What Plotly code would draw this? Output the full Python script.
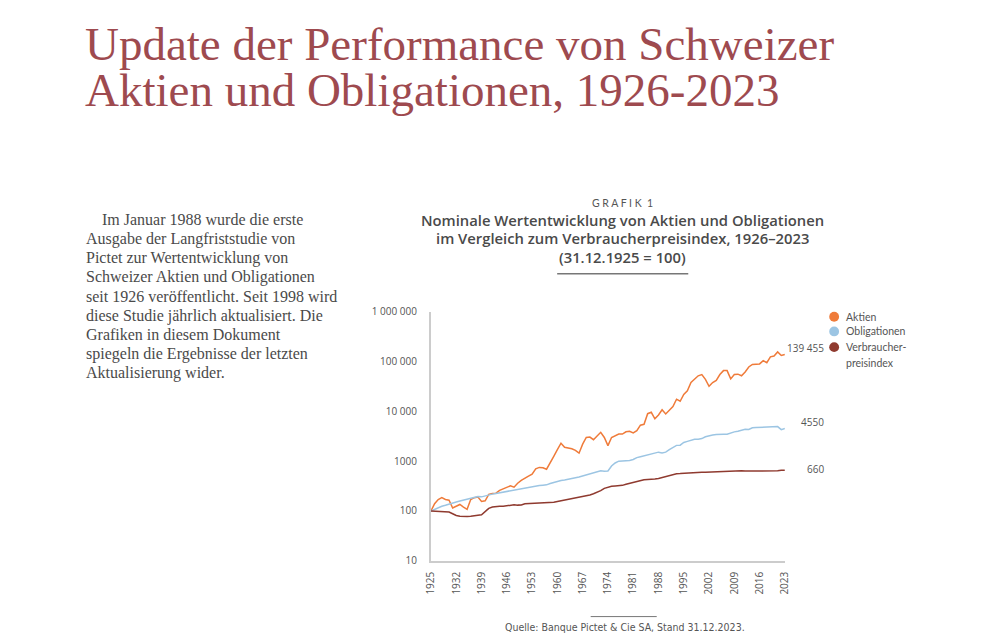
import math
import plotly.graph_objects as go

W, H = 981, 643
OFF = 8  # page body margin

years = list(range(1925, 2024))

aktien = [100, 140, 170, 185, 170, 165, 115, 125, 135, 120,
          108, 170, 185, 190, 155, 160, 215, 225, 228, 260,
          280, 300, 320, 300, 360, 410, 460, 500, 550, 700,
          750, 740, 690, 900, 1250, 1700, 2300, 1900, 1850, 1780,
          1650, 1450, 2200, 3000, 3050, 2700, 3200, 3800, 3000, 2050,
          3000, 3300, 3500, 3500, 3900, 4000, 3700, 4100, 5300, 5500,
          9000, 9600, 7100, 8500, 10800, 8900, 10500, 12500, 17600, 16000,
          22000, 26000, 38000, 45000, 52000, 55000, 44000, 32000, 38000, 42000,
          55000, 66000, 66000, 45000, 55000, 56000, 52000, 62000, 78000, 88000,
          90000, 90000, 105000, 95000, 125000, 130000, 157000, 133000, 139455]

obligationen = [100, 108, 116, 124, 130, 138, 145, 152, 158, 165,
                170, 180, 188, 195, 192, 198, 210, 218, 225, 232,
                240, 248, 255, 262, 275, 285, 290, 300, 310, 320,
                325, 330, 335, 355, 375, 400, 410, 420, 430, 445,
                465, 480, 505, 530, 545, 580, 620, 640, 630, 635,
                800, 920, 1000, 1010, 1000, 1030, 1080, 1180, 1230, 1280,
                1350, 1420, 1460, 1520, 1470, 1520, 1700, 1900, 2080, 2100,
                2380, 2500, 2650, 2750, 2770, 2850, 3100, 3280, 3350, 3450,
                3500, 3480, 3470, 3700, 3880, 4000, 4250, 4400, 4350, 4700,
                4750, 4800, 4820, 4850, 4950, 5000, 4950, 4300, 4550]

vpi = [100, 99, 99, 99, 98, 95, 88, 81, 78, 77,
       77, 78, 81, 82, 84, 98, 113, 120, 123, 124,
       124, 128, 133, 133, 131, 132, 139, 140, 140, 141,
       143, 145, 148, 149, 150, 155, 160, 166, 172, 178,
       185, 193, 200, 205, 210, 222, 237, 256, 285, 305,
       315, 319, 323, 327, 344, 358, 381, 402, 410, 422,
       431, 431, 440, 449, 472, 497, 523, 540, 560, 563,
       571, 575, 577, 578, 588, 597, 600, 605, 608, 617,
       623, 624, 635, 640, 642, 642, 640, 632, 632, 632,
       625, 625, 630, 635, 636, 630, 640, 655, 660]

series_names = ["Aktien", "Obligationen", "Verbraucher-"]
series_colors = ["#ef7b3a", "#9cc5e3", "#8f3a2f"]
end_labels = ["139 455", "4550", "660"]

tick_years = list(range(1925, 2024, 7))
y_tickvals = [10, 100, 1000, 10000, 100000, 1000000]
y_ticktext = ["10", "100", "1000", "10 000", "100 000", "1 000 000"]

title_lines = ["Update der Performance von Schweizer",
               "Aktien und Obligationen, 1926-2023"]
intro_lines = ["\u2003Im Januar 1988 wurde die erste",
               "Ausgabe der Langfriststudie von",
               "Pictet zur Wertentwicklung von",
               "Schweizer Aktien und Obligationen",
               "seit 1926 veröffentlicht. Seit 1998 wird",
               "diese Studie jährlich aktualisiert. Die",
               "Grafiken in diesem Dokument",
               "spiegeln die Ergebnisse der letzten",
               "Aktualisierung wider."]
heading_lines = ["Nominale Wertentwicklung von Aktien und Obligationen",
                 "im Vergleich zum Verbraucherpreisindex, 1926–2023",
                 "(31.12.1925 = 100)"]


def px(x):
    return (x - OFF) / W


def py(y):
    return 1 - (y - OFF) / H


def text(x, y, s, font, anchor="left"):
    fig.add_annotation(x=px(x), y=py(y), xref="paper", yref="paper", xanchor=anchor,
                       yanchor="middle", text=s, showarrow=False, font=font)


fig = go.Figure()

for name, vals, col in zip(series_names, [aktien, obligationen, vpi], series_colors):
    fig.add_trace(go.Scatter(x=years, y=vals, mode="lines", line=dict(color=col, width=1.5),
                             showlegend=False, name=name.rstrip("-")))

# end value labels (log axis -> annotation y in log10)
for lab, vals, dy in zip(end_labels, [aktien, obligationen, vpi], [6, 6, 1]):
    fig.add_annotation(x=2023, y=math.log10(vals[-1]), xref="x", yref="y", text=lab, showarrow=False,
                       xanchor="right", yanchor="middle", xshift=41, yshift=dy,
                       font=dict(family="Open Sans", size=10, color="#555555"))

# legend drawn by hand
leg_y = [316, 331, 347]
for name, col, ly in zip(series_names, series_colors, leg_y):
    fig.add_shape(type="circle", xref="paper", yref="paper", x0=px(833), x1=px(843),
                  y0=py(ly + 5), y1=py(ly - 5), fillcolor=col, line=dict(width=0))
    text(848, ly, name, dict(family="Lato", size=10.5, color="#555555"))
text(848, 363, "preisindex", dict(family="Lato", size=10.5, color="#555555"))

# page title
tfont = dict(family="Liberation Serif", size=47, color="#9e4a4f")
for i, s in enumerate(title_lines):
    text(76, 38 + 47 * i, s, tfont)

# intro paragraph
pfont = dict(family="Liberation Serif", size=16, color="#4a4a4a")
for i, s in enumerate(intro_lines):
    text(77, 217 + 19.6 * i, s, pfont)

# chart heading
text(623, 200, "G R A F I K  1", dict(family="Lato", size=10.5, color="#555555"), "center")
hfont = dict(family="Open Sans", size=14.8, color="#4a4a4a", weight=600)
for i, s in enumerate(heading_lines):
    text(623, 217 + 19 * i, s, hfont, "center")
fig.add_shape(type="line", xref="paper", yref="paper", x0=px(557), x1=px(690), y0=py(272), y1=py(272),
              line=dict(color="#777777", width=1.5))

# source
fig.add_shape(type="line", xref="paper", yref="paper", x0=px(591), x1=px(658), y0=py(622), y1=py(622),
              line=dict(color="#777777", width=1))
text(626, 633, "Quelle: Banque Pictet & Cie SA, Stand 31.12.2023.",
     dict(family="DejaVu Sans Condensed, Liberation Sans Narrow, Roboto", size=10.5, color="#555555"),
     "center")

fig.update_layout(
    width=W, height=H,
    margin=dict(l=0, r=0, t=0, b=0),
    paper_bgcolor="white", plot_bgcolor="white",
    showlegend=False,
    xaxis=dict(domain=[px(429), px(788)], range=[1925, 2023], tickvals=tick_years,
               tickangle=-90, showgrid=False, zeroline=False, showline=True,
               linecolor="#cccccc", linewidth=2, ticks="", ticklabelstandoff=5,
               tickfont=dict(family="Open Sans", size=10, color="#555555")),
    yaxis=dict(domain=[py(565), py(311)], type="log", range=[1, 6],
               tickvals=y_tickvals, ticktext=y_ticktext, showgrid=False, zeroline=False,
               showline=True, linecolor="#cccccc", linewidth=2, ticks="", ticklabelstandoff=10,
               tickfont=dict(family="Open Sans", size=10, color="#555555")),
)

fig.write_html("out.html")
